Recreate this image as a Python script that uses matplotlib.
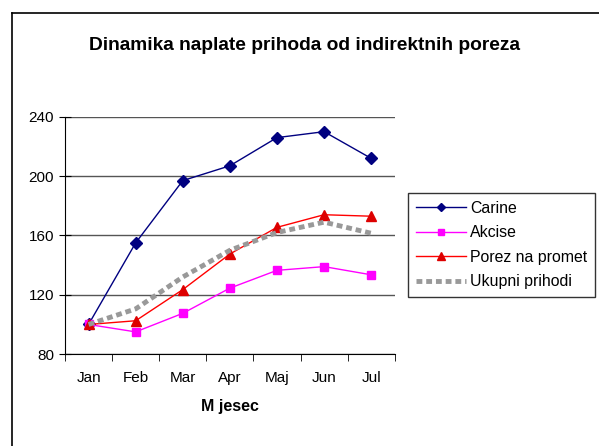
import matplotlib
matplotlib.use("Agg")
from matplotlib import pyplot as plt
from matplotlib.lines import Line2D
import numpy as np

plt.rcParams['font.family'] = ['Liberation Sans', 'DejaVu Sans']

mjeseci = ["Jan", "Feb", "Mar", "Apr", "Maj", "Jun", "Jul"]
carine = [100, 155, 197, 207, 226, 230, 212]
akcise = [100, 95, 107.5, 124.5, 136.5, 139, 133.5]
porez = [100, 102.5, 123.5, 147.5, 165.5, 174, 173]
ukupni = [100, 110.5, 132, 150, 162, 169, 161.5]

fig = plt.figure(figsize=(5.99, 4.46), dpi=100)
ax = fig.add_axes([0.1085, 0.206, 0.5505, 0.532])

x = np.arange(len(mjeseci)) + 0.5
ax.plot(x, carine, color='#000080', lw=1, marker='D', ms=6, label='Carine')
ax.plot(x, akcise, color='#FF00FF', lw=1, marker='s', ms=6, label='Akcise')
ax.plot(x, porez, color='#FF0000', lw=1, marker='^', ms=7,
        markerfacecolor='#DD0000', markeredgecolor='#DD0000', label='Porez na promet')
ax.plot(x, ukupni, color='#999999', lw=3.5, dashes=(1.2, 0.8), label='Ukupni prihodi')

ax.set_xlim(0, 7)
ax.set_ylim(80, 240)
ax.set_yticks([80, 120, 160, 200, 240])
ax.set_xticks(x)
ax.set_xticklabels(mjeseci)
ax.set_xticks(np.arange(8), minor=True)
ax.tick_params(axis='x', which='major', length=0, pad=12, labelsize=11)
ax.tick_params(axis='x', which='minor', length=5, direction='out')
ax.tick_params(axis='y', length=8, direction='inout', labelsize=11, pad=4)
for s in ['top', 'right']:
    ax.spines[s].set_visible(False)
ax.grid(axis='y', color='#555555', lw=1)
ax.set_axisbelow(True)

ax.set_xlabel("M jesec", fontsize=11.5, fontweight='bold', labelpad=10)

fig.text(0.508, 0.897, "Dinamika naplate prihoda od indirektnih poreza",
         ha='center', va='center', fontsize=13.8, fontweight='bold')

leg = ax.legend(loc='upper left', bbox_to_anchor=(1.039, 0.679), fontsize=11.4,
                frameon=True, fancybox=False, edgecolor='black', handlelength=3.2,
                borderpad=0.5, labelspacing=0.6, handletextpad=0.25,
                markerscale=0.75, borderaxespad=0)
leg.get_frame().set_linewidth(1)

# okvir grafikona (samo lijeva i gornja ivica)
fig.add_artist(Line2D([0.02, 0.02], [0, 0.971], color='black', lw=1.2, transform=fig.transFigure))
fig.add_artist(Line2D([0.02, 1.0], [0.971, 0.971], color='black', lw=1.2, transform=fig.transFigure))

fig.savefig("out.png", dpi=100)
